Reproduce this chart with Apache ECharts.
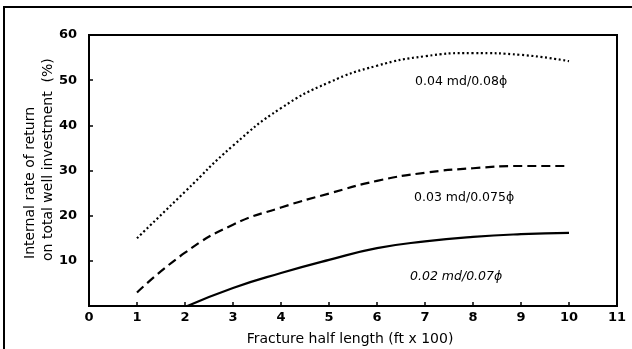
<!DOCTYPE html>
<html>
<head>
<meta charset="utf-8">
<script src="https://cdn.jsdelivr.net/npm/echarts@6/dist/echarts.min.js"></script>
<style>
  html, body { margin: 0; padding: 0; background: #fff; }
  #chart { width: 632px; height: 349px; }
</style>
</head>
<body>
<div id="chart"></div>
<script>
// Fracture half length (ft x 100)
const xTicks = [0, 1, 2, 3, 4, 5, 6, 7, 8, 9, 10, 11];
const yTicks = [10, 20, 30, 40, 50, 60];

// 0.04 md / 0.08 porosity
const permHighX = [1, 2, 3, 4, 5, 6, 7, 8, 9, 10];
const permHighY = [15, 25.3, 35.5, 43.8, 49.5, 53.2, 55.3, 56, 55.6, 54.2];

// 0.03 md / 0.075 porosity
const permMidX = [1, 2, 3, 4, 5, 6, 7, 8, 9, 10];
const permMidY = [3, 11.8, 18, 21.8, 24.9, 27.7, 29.5, 30.5, 31, 31];

// 0.02 md / 0.07 porosity
const permLowX = [2.05, 3, 4, 5, 6, 7, 8, 9, 10];
const permLowY = [0, 4, 7.3, 10.2, 12.8, 14.3, 15.3, 15.9, 16.2];

const seriesLabels = ['0.04 md/0.08\u03d5', '0.03 md/0.075\u03d5', '0.02 md/0.07\u03d5'];

const pairs = (xs, ys) => xs.map((x, i) => [x, ys[i]]);

const FONT = '"DejaVu Sans", "Liberation Sans", sans-serif';
const chart = echarts.init(document.getElementById('chart'), null, { renderer: 'canvas' });

chart.setOption({
  animation: false,
  backgroundColor: '#fff',
  grid: {
    left: 89, right: 15, top: 35, bottom: 43,
    show: true, borderColor: '#000', borderWidth: 2, backgroundColor: 'transparent'
  },
  xAxis: {
    type: 'value', min: 0, max: 11, interval: 1,
    axisLine: { lineStyle: { color: '#000', width: 2 } },
    axisTick: { inside: true, length: 4, lineStyle: { color: '#000', width: 1.5 } },
    axisLabel: {
      color: '#000', fontFamily: FONT, fontSize: 13, fontWeight: 'bold', margin: 5,
      formatter: v => (xTicks.includes(v) ? String(v) : '')
    },
    splitLine: { show: false }
  },
  yAxis: {
    type: 'value', min: 0, max: 60, interval: 10,
    axisLine: { lineStyle: { color: '#000', width: 2 } },
    axisTick: { inside: true, length: 4, lineStyle: { color: '#000', width: 1.5 } },
    axisLabel: {
      color: '#000', fontFamily: FONT, fontSize: 13, fontWeight: 'bold', margin: 12,
      formatter: v => (yTicks.includes(v) ? String(v) : '')
    },
    splitLine: { show: false }
  },
  series: [
    {
      type: 'line', data: pairs(permHighX, permHighY), smooth: true, symbol: 'none',
      lineStyle: { color: '#000', width: 2.2, type: [2, 2.6] }
    },
    {
      type: 'line', data: pairs(permMidX, permMidY), smooth: true, symbol: 'none',
      lineStyle: { color: '#000', width: 2.2, type: [9, 5] }
    },
    {
      type: 'line', data: pairs(permLowX, permLowY), smooth: true, symbol: 'none',
      lineStyle: { color: '#000', width: 2.2 }
    }
  ],
  graphic: [
    // outer frame
    { type: 'rect', silent: true, shape: { x: 4, y: 7, width: 700, height: 400 },
      style: { fill: 'none', stroke: '#000', lineWidth: 2 } },
    // y axis title (two rotated lines)
    { type: 'text', x: 30, y: 259, rotation: Math.PI / 2,
      style: { text: 'Internal rate of return', font: '14px ' + FONT, fill: '#000',
               textAlign: 'left', textVerticalAlign: 'middle' } },
    { type: 'text', x: 48, y: 261, rotation: Math.PI / 2,
      style: { text: 'on total well investment  (%)', font: '14px ' + FONT, fill: '#000',
               textAlign: 'left', textVerticalAlign: 'middle' } },
    // x axis title
    { type: 'text', x: 350, y: 339,
      style: { text: 'Fracture half length (ft x 100)', font: '14px ' + FONT, fill: '#000',
               textAlign: 'center', textVerticalAlign: 'middle' } },
    // curve labels
    { type: 'text', x: 415, y: 82,
      style: { text: seriesLabels[0], font: '12.5px ' + FONT, fill: '#000',
               textAlign: 'left', textVerticalAlign: 'middle' } },
    { type: 'text', x: 414, y: 198,
      style: { text: seriesLabels[1], font: '12.5px ' + FONT, fill: '#000',
               textAlign: 'left', textVerticalAlign: 'middle' } },
    { type: 'text', x: 410, y: 277,
      style: { text: seriesLabels[2], font: 'italic 12.5px ' + FONT, fill: '#000',
               textAlign: 'left', textVerticalAlign: 'middle' } }
  ]
});
</script>
</body>
</html>
